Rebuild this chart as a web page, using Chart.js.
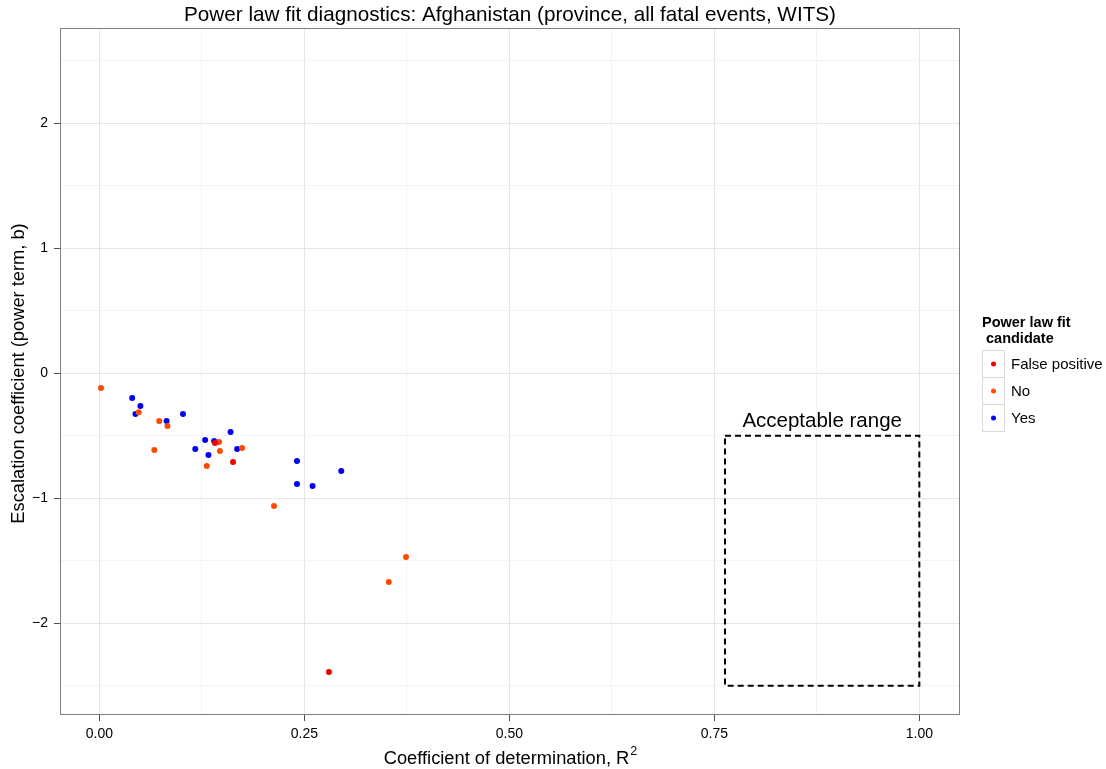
<!DOCTYPE html>
<html><head><meta charset="utf-8">
<script src="https://cdn.jsdelivr.net/npm/chart.js@4.4.1/dist/chart.umd.min.js"></script>
<style>html,body{margin:0;padding:0;background:#fff}canvas{display:block}</style>
</head><body>
<canvas id="c" width="1106" height="769"></canvas>
<script>
const seriesNames = ['False positive', 'No', 'Yes'];
const seriesColors = ['#F20000', '#FF4A00', '#0000F2'];
const fpX = [0.141, 0.163, 0.280];
const fpY = [-0.558, -0.710, -2.390];
const noX = [0.002, 0.048, 0.073, 0.083, 0.067, 0.146, 0.147, 0.174, 0.131, 0.213, 0.374, 0.353];
const noY = [-0.118, -0.312, -0.382, -0.422, -0.614, -0.550, -0.622, -0.598, -0.742, -1.062, -1.470, -1.670];
const yesX = [0.040, 0.050, 0.044, 0.082, 0.102, 0.117, 0.129, 0.140, 0.160, 0.133, 0.168, 0.241, 0.295, 0.241, 0.260];
const yesY = [-0.198, -0.262, -0.326, -0.382, -0.326, -0.606, -0.534, -0.542, -0.470, -0.654, -0.606, -0.702, -0.782, -0.886, -0.902];
const xMajor = [0, 0.25, 0.5, 0.75, 1.0];
const xMinor = [0.125, 0.375, 0.625, 0.875];
const xLabels = ['0.00', '0.25', '0.50', '0.75', '1.00'];
const yMajor = [-2, -1, 0, 1, 2];
const yMinor = [-2.5, -1.5, -0.5, 0.5, 1.5, 2.5];
const yLabels = ['\u22122', '\u22121', '0', '1', '2'];
const boxX = [0.763, 1.0];
const boxY = [-2.5, -0.5];
const boxLabel = 'Acceptable range';
const titleText = 'Power law fit diagnostics: Afghanistan (province, all fatal events, WITS)';
const xTitle = 'Coefficient of determination, R';
const yTitle = 'Escalation coefficient (power term, b)';
const legendTitle = ['Power law fit', ' candidate'];

const FONT = '"Liberation Sans", Arial, Helvetica, sans-serif';
const zip = (xs, ys) => xs.map((x, i) => ({x, y: ys[i]}));
const seriesData = [zip(fpX, fpY), zip(noX, noY), zip(yesX, yesY)];

const majorSet = (arr) => new Set(arr.map(v => v.toFixed(4)));
const xMajSet = majorSet(xMajor), yMajSet = majorSet(yMajor);

const overlay = {
  id: 'overlay',
  afterDatasetsDraw(chart) {
    const {ctx, chartArea: a, scales: {x, y}} = chart;
    ctx.save();
    const x0 = x.getPixelForValue(boxX[0]), x1 = x.getPixelForValue(boxX[1]);
    const y0 = y.getPixelForValue(boxY[1]), y1 = y.getPixelForValue(boxY[0]);
    ctx.setLineDash([6, 4]);
    ctx.lineWidth = 2;
    ctx.strokeStyle = '#000';
    ctx.strokeRect(x0, y0, x1 - x0, y1 - y0);
    ctx.setLineDash([]);
    ctx.fillStyle = '#000';
    ctx.font = '20.5px ' + FONT;
    ctx.textAlign = 'center';
    ctx.textBaseline = 'alphabetic';
    ctx.fillText(boxLabel, (x0 + x1) / 2, y0 - 9);
    ctx.strokeStyle = '#7f7f7f';
    ctx.lineWidth = 1;
    ctx.strokeRect(a.left + 0.5, a.top + 0.5, a.right - a.left - 1, a.bottom - a.top - 1);
    ctx.restore();
  },
  afterDraw(chart) {
    const {ctx, chartArea: a} = chart;
    ctx.save();
    ctx.fillStyle = '#000';
    ctx.font = '20.7px ' + FONT;
    ctx.textAlign = 'center';
    ctx.textBaseline = 'middle';
    ctx.fillText(titleText, (a.left + a.right) / 2, 15);
    ctx.font = '18.3px ' + FONT;
    const w1 = ctx.measureText(xTitle).width;
    ctx.font = '12.5px ' + FONT;
    const w2 = ctx.measureText('2').width;
    const cx = (a.left + a.right) / 2;
    const sx = cx - (w1 + w2) / 2;
    ctx.textAlign = 'left';
    ctx.textBaseline = 'alphabetic';
    ctx.font = '18.3px ' + FONT;
    ctx.fillText(xTitle, sx, 764);
    ctx.font = '12.5px ' + FONT;
    ctx.fillText('2', sx + w1 + 1, 755);
    ctx.font = '18.3px ' + FONT;
    ctx.translate(19, (a.top + a.bottom) / 2 + 2);
    ctx.rotate(-Math.PI / 2);
    ctx.textAlign = 'center';
    ctx.textBaseline = 'middle';
    ctx.fillText(yTitle, 0, 0);
    ctx.restore();
    ctx.save();
    ctx.fillStyle = '#000';
    ctx.font = 'bold 14.5px ' + FONT;
    ctx.textAlign = 'left';
    ctx.textBaseline = 'middle';
    ctx.fillText(legendTitle[0], 982, 323);
    ctx.fillText(legendTitle[1], 982, 339);
    const kx = 982, ky = 350, kw = 22, kh = 27;
    seriesNames.forEach((n, i) => {
      const top = ky + i * kh;
      ctx.strokeStyle = '#d9d9d9';
      ctx.lineWidth = 1;
      ctx.strokeRect(kx + 0.5, top + 0.5, kw, kh);
      ctx.fillStyle = seriesColors[i];
      ctx.beginPath();
      ctx.arc(kx + kw / 2 + 0.5, top + kh / 2 + 0.5, 2.5, 0, Math.PI * 2);
      ctx.fill();
      ctx.fillStyle = '#000';
      ctx.font = '15px ' + FONT;
      ctx.fillText(n, kx + kw + 7, top + kh / 2 + 1);
    });
    ctx.restore();
  }
};

const gridColor = (set, major, minor) => (c) => {
  const v = c.tick ? c.tick.value : null;
  if (v === null) return major;
  return set.has(v.toFixed(4)) ? major : minor;
};

new Chart(document.getElementById('c'), {
  type: 'scatter',
  data: {
    datasets: seriesNames.map((n, i) => ({
      label: n,
      data: seriesData[i],
      backgroundColor: seriesColors[i],
      borderColor: seriesColors[i],
      borderWidth: 0,
      pointRadius: 3,
      pointHoverRadius: 3
    }))
  },
  options: {
    responsive: false,
    animation: false,
    events: [],
    layout: {padding: {top: 28, right: 146, left: 0, bottom: 0}},
    plugins: {legend: {display: false}, tooltip: {enabled: false}, title: {display: false}},
    scales: {
      x: {
        type: 'linear', min: -0.048, max: 1.0496,
        afterBuildTicks: (s) => { s.ticks = [...xMajor, ...xMinor].sort((a, b) => a - b).map(v => ({value: v})); },
        afterFit: (s) => { s.height = 54; },
        border: {display: false},
        grid: {
          color: gridColor(xMajSet, '#e5e5e5', '#f3f3f3'),
          tickColor: gridColor(xMajSet, '#4d4d4d', 'rgba(0,0,0,0)'),
          tickLength: 6, lineWidth: 1
        },
        ticks: {
          maxRotation: 0, autoSkip: false, padding: 5,
          color: '#000', font: {size: 14, family: FONT},
          callback: (v) => { const i = xMajor.findIndex(m => Math.abs(m - v) < 1e-6); return i >= 0 ? xLabels[i] : ''; }
        }
      },
      y: {
        type: 'linear', min: -2.733, max: 2.762,
        afterBuildTicks: (s) => { s.ticks = [...yMajor, ...yMinor].sort((a, b) => a - b).map(v => ({value: v})); },
        afterFit: (s) => { s.width = 60; },
        border: {display: false},
        grid: {
          color: gridColor(yMajSet, '#e5e5e5', '#f3f3f3'),
          tickColor: gridColor(yMajSet, '#4d4d4d', 'rgba(0,0,0,0)'),
          tickLength: 6, lineWidth: 1
        },
        ticks: {
          autoSkip: false, padding: 6,
          color: '#000', font: {size: 14, family: FONT},
          callback: (v) => { const i = yMajor.findIndex(m => Math.abs(m - v) < 1e-6); return i >= 0 ? yLabels[i] : ''; }
        }
      }
    }
  },
  plugins: [overlay]
});
</script>
</body></html>
